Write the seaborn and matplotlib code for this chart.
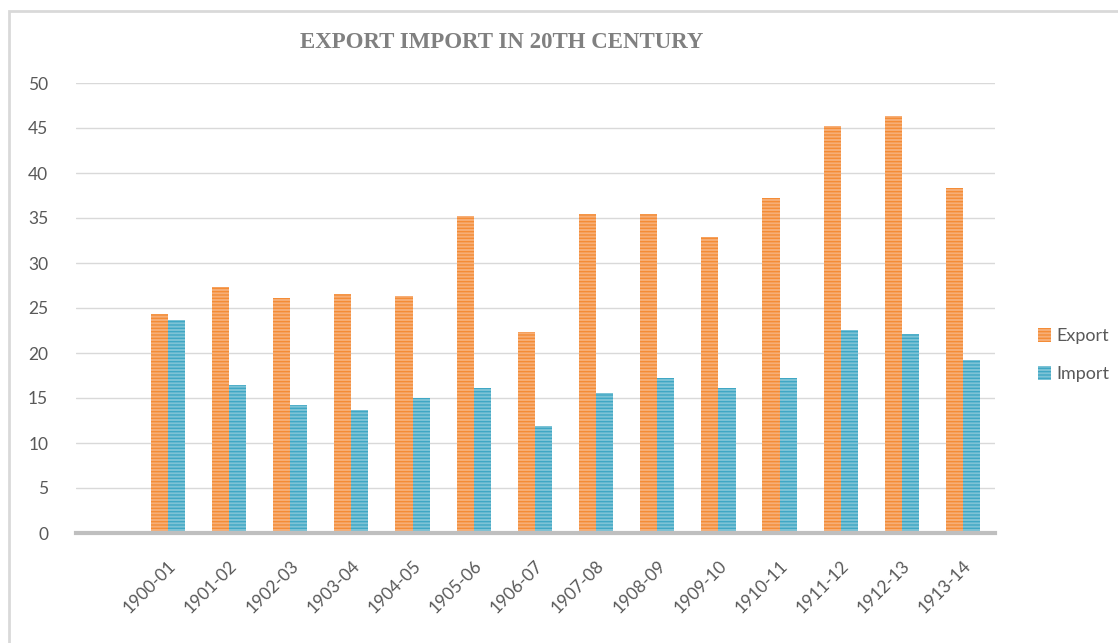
import matplotlib
matplotlib.use("Agg")
import matplotlib.pyplot as plt
import seaborn as sns
import pandas as pd
from matplotlib.patches import Patch, Rectangle

periods = ["1900-01", "1901-02", "1902-03", "1903-04", "1904-05", "1905-06", "1906-07",
           "1907-08", "1908-09", "1909-10", "1910-11", "1911-12", "1912-13", "1913-14"]
export = [24.3, 27.3, 26.1, 26.6, 26.3, 35.2, 22.3, 35.4, 35.4, 32.9, 37.2, 45.2, 46.3, 38.3]
imports = [23.7, 16.4, 14.2, 13.7, 15.0, 16.1, 11.9, 15.6, 17.2, 16.1, 17.2, 22.6, 22.1, 19.2]
series = ["Export", "Import"]
yticks = [0, 5, 10, 15, 20, 25, 30, 35, 40, 45, 50]

face = {"Export": "#F7AE76", "Import": "#7DC3D6"}
stripe = {"Export": "#F48C36", "Import": "#3FA7C4"}

df = pd.DataFrame({
    "period": periods * 2,
    "value": export + imports,
    "series": ["Export"] * len(periods) + ["Import"] * len(periods),
})

sns.set_theme(style="white")
plt.rcParams["font.family"] = ["Lato", "DejaVu Sans"]
plt.rcParams["hatch.linewidth"] = 1.0

fig = plt.figure(figsize=(11.18, 6.43), dpi=100)
W, H = 1118, 643
ax = fig.add_axes([76 / W, 1 - 533 / H, (995 - 76) / W, (533 - 83) / H])

sns.barplot(data=df, x="period", y="value", hue="series", hue_order=series,
            order=periods, palette=[face[s] for s in series], saturation=1,
            width=0.56, dodge=True, legend=False, ax=ax)

n = len(periods)
for i, p in enumerate(ax.patches[:2 * n]):
    s = series[i // n]
    p.set_facecolor(face[s])
    p.set_edgecolor(stripe[s])
    p.set_hatch("-----")
    p.set_linewidth(0)

ax.set_xlim(-1.5, n - 0.48)
ax.set_ylim(0, 50)
ax.set_yticks(yticks)
ax.set_yticklabels([str(v) for v in yticks], fontsize=12.5, color="#595959")
ax.set_xticks(range(n))
ax.set_xticklabels(periods, rotation=45, ha="right", rotation_mode="anchor",
                   fontsize=12.5, color="#595959")
ax.tick_params(axis="x", length=0, pad=18)
ax.tick_params(axis="y", length=0, pad=20)
ax.set_xlabel("")
ax.set_ylabel("")
ax.yaxis.grid(True, color="#D9D9D9", linewidth=1)
ax.set_axisbelow(True)
for side in ["top", "right", "left"]:
    ax.spines[side].set_visible(False)
ax.spines["bottom"].set_color("#BFBFBF")
ax.spines["bottom"].set_linewidth(3)

fig.text(502 / W, 1 - 43 / H, "EXPORT IMPORT IN 20TH CENTURY", ha="center", va="center",
         fontsize=16.5, fontweight="bold", color="#808080", family="Liberation Serif")

handles = [Patch(facecolor=face[s], edgecolor=stripe[s], hatch="-----", linewidth=0) for s in series]
fig.legend(handles, series, loc="center left", bbox_to_anchor=(1022 / W, 1 - 355 / H),
           frameon=False, fontsize=13, labelcolor="#595959", handlelength=0.7,
           handleheight=0.8, handletextpad=0.3, labelspacing=1.2)

fig.patches.append(Rectangle((9 / W, -0.1), 1.2, 1 - 11 / H + 0.1, transform=fig.transFigure,
                             fill=False, edgecolor="#D9D9D9", linewidth=2, figure=fig))

fig.savefig("out.png", dpi=100, facecolor="white")
